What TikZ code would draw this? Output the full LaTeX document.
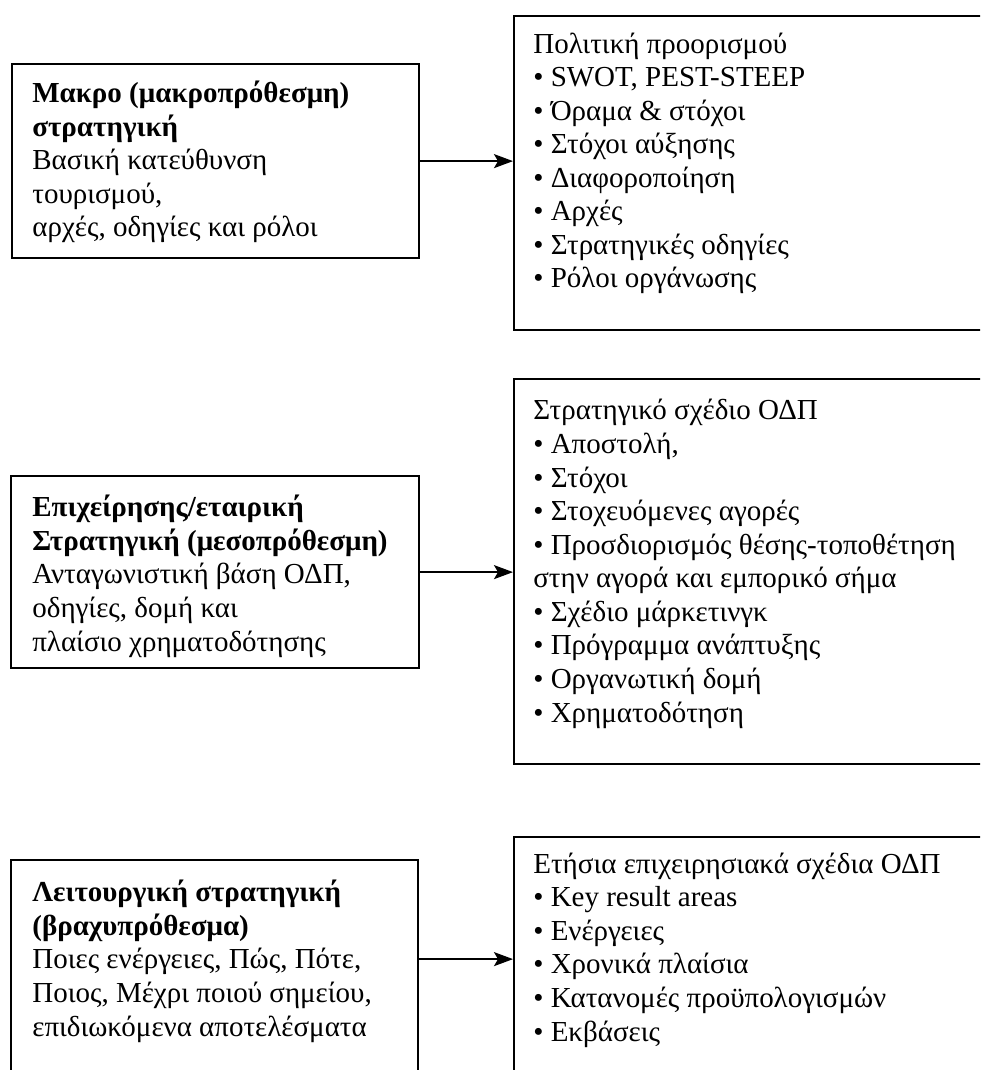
\documentclass[tikz,border=0pt]{standalone}
\usepackage{fontspec}
\setmainfont{Liberation Serif}
\usetikzlibrary{arrows.meta}

\begin{document}
\begin{tikzpicture}[x = 0.02cm, y = -0.02cm]
	\tikzstyle{boxStyle} = [draw, line width = 1.3pt, rectangle, inner sep = 0pt, anchor = north west]
	\tikzstyle{textStyle} = [anchor = base west, align = left, inner sep = 0pt, font = \fontsize{16.5pt}{19.1pt}\selectfont]
	\tikzstyle{arrowStyle} = [line width = 1.1pt, -{Stealth[length = 0.38cm, width = 0.28cm, inset = 0.08cm]}]
	\useasboundingbox (0,0) rectangle (980,1070);
	\clip (0,0) rectangle (980,1070);
	\node[boxStyle, minimum width = 8.14cm, minimum height = 3.88cm] (macro) at (11,63) {};
	\node[boxStyle, minimum width = 9.74cm, minimum height = 6.28cm] (policy) at (513,15) {};
	\node[boxStyle, minimum width = 8.16cm, minimum height = 3.84cm] (corp) at (10,475) {};
	\node[boxStyle, minimum width = 9.74cm, minimum height = 7.70cm] (plan) at (513,378) {};
	\node[boxStyle, minimum width = 8.14cm, minimum height = 4.82cm] (ops) at (10,859) {};
	\node[boxStyle, minimum width = 9.74cm, minimum height = 4.88cm] (annual) at (513,836) {};
	\node[textStyle] (macrotxt) at (32,237) {\textbf{Μακρο (μακροπρόθεσμη)}\\\textbf{στρατηγική}\\Βασική κατεύθυνση\\τουρισμού,\\αρχές, οδηγίες και ρόλοι};
	\node[textStyle] (policytxt) at (533,288) {Πολιτική προορισμού\\• SWOT, PEST-STEEP\\• Όραμα \& στόχοι\\• Στόχοι αύξησης\\• Διαφοροποίηση\\• Αρχές\\• Στρατηγικές οδηγίες\\• Ρόλοι οργάνωσης};
	\node[textStyle] (corptxt) at (32,651) {\textbf{Επιχείρησης/εταιρική}\\\textbf{Στρατηγική (μεσοπρόθεσμη)}\\Ανταγωνιστική βάση ΟΔΠ,\\οδηγίες, δομή και\\πλαίσιο χρηματοδότησης};
	\node[textStyle] (plantxt) at (533,722) {Στρατηγικό σχέδιο ΟΔΠ\\• Αποστολή,\\• Στόχοι\\• Στοχευόμενες αγορές\\• Προσδιορισμός θέσης-τοποθέτηση\\στην αγορά και εμπορικό σήμα\\• Σχέδιο μάρκετινγκ\\• Πρόγραμμα ανάπτυξης\\• Οργανωτική δομή\\• Χρηματοδότηση};
	\node[textStyle] (opstxt) at (32,1036) {\textbf{Λειτουργική στρατηγική}\\\textbf{(βραχυπρόθεσμα)}\\Ποιες ενέργειες, Πώς, Πότε,\\Ποιος, Μέχρι ποιού σημείου,\\επιδιωκόμενα αποτελέσματα};
	\node[textStyle] (annualtxt) at (533,1041) {Ετήσια επιχειρησιακά σχέδια ΟΔΠ\\• Key result areas\\• Ενέργειες\\• Χρονικά πλαίσια\\• Κατανομές προϋπολογισμών\\• Εκβάσεις};
	\draw[arrowStyle] (macro.east) -- (macro.east -| policy.west);
	\draw[arrowStyle] (corp.east) -- (corp.east -| plan.west);
	\draw[arrowStyle] (annual.west -| ops.east) -- (annual.west);
\end{tikzpicture}
\end{document}
